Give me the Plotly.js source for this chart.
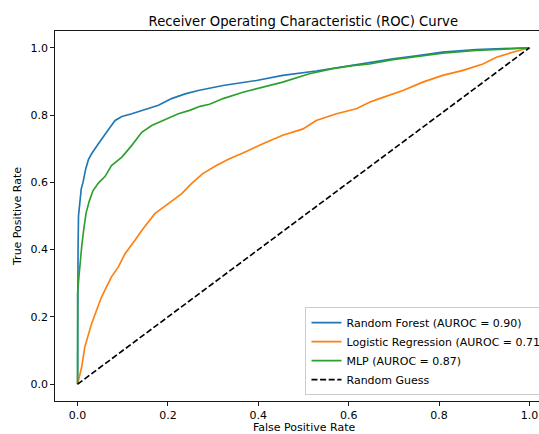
<!DOCTYPE html>
<html>
<head>
<meta charset="utf-8">
<script src="https://cdn.plot.ly/plotly-3.0.1.min.js"></script>
<style>
html, body { margin: 0; padding: 0; overflow: hidden; background: #fff; }
#chart { width: 553px; height: 434px; }
</style>
</head>
<body>
<div id="chart"></div>
<script>
// Random Forest (AUROC = 0.90)
const rfFpr = [0, 0, 0.001, 0.002, 0.005, 0.008, 0.012, 0.018, 0.024, 0.031, 0.046, 0.061, 0.072, 0.083, 0.098, 0.12, 0.149, 0.179, 0.208, 0.238, 0.267, 0.322, 0.396, 0.454, 0.528, 0.587, 0.646, 0.698, 0.75, 0.808, 0.882, 0.94, 1.0];
const rfTpr = [0, 0.27, 0.4, 0.5, 0.55, 0.58, 0.6, 0.64, 0.668, 0.685, 0.715, 0.745, 0.764, 0.784, 0.796, 0.804, 0.816, 0.829, 0.849, 0.863, 0.873, 0.888, 0.903, 0.918, 0.931, 0.944, 0.957, 0.967, 0.976, 0.987, 0.995, 0.998, 1.0];

// Logistic Regression (AUROC = 0.71)
const lrFpr = [0, 0.009, 0.016, 0.024, 0.031, 0.042, 0.053, 0.064, 0.075, 0.09, 0.105, 0.127, 0.142, 0.171, 0.201, 0.23, 0.252, 0.277, 0.307, 0.336, 0.366, 0.41, 0.454, 0.499, 0.528, 0.573, 0.617, 0.646, 0.668, 0.72, 0.764, 0.808, 0.853, 0.897, 0.927, 0.963, 1.0];
const lrTpr = [0, 0.051, 0.111, 0.151, 0.18, 0.22, 0.259, 0.289, 0.319, 0.348, 0.388, 0.428, 0.457, 0.507, 0.537, 0.566, 0.596, 0.626, 0.65, 0.67, 0.687, 0.715, 0.74, 0.759, 0.784, 0.804, 0.819, 0.838, 0.849, 0.873, 0.898, 0.918, 0.933, 0.952, 0.972, 0.987, 1.0];

// MLP (AUROC = 0.87)
const mlpFpr = [0, 0, 0.003, 0.005, 0.009, 0.014, 0.019, 0.026, 0.034, 0.046, 0.061, 0.075, 0.098, 0.12, 0.142, 0.164, 0.193, 0.223, 0.248, 0.271, 0.292, 0.322, 0.366, 0.41, 0.454, 0.513, 0.565, 0.609, 0.646, 0.698, 0.75, 0.808, 0.882, 0.94, 1.0];
const mlpTpr = [0, 0.27, 0.32, 0.36, 0.408, 0.465, 0.51, 0.545, 0.575, 0.598, 0.618, 0.65, 0.675, 0.71, 0.749, 0.769, 0.786, 0.804, 0.814, 0.826, 0.832, 0.849, 0.868, 0.883, 0.898, 0.923, 0.938, 0.947, 0.952, 0.965, 0.975, 0.984, 0.992, 0.997, 1.0];

// Random Guess
const guessFpr = [0, 1];
const guessTpr = [0, 1];

const xTicks = [0, 0.2, 0.4, 0.6, 0.8, 1.0];
const yTicks = [0, 0.2, 0.4, 0.6, 0.8, 1.0];
const tickText = ['0.0', '0.2', '0.4', '0.6', '0.8', '1.0'];

const FONT = 'DejaVu Sans, Verdana, sans-serif';
const LW = 1.65;

const traces = [
  {x: rfFpr, y: rfTpr, mode: 'lines', name: 'Random Forest (AUROC = 0.90)', line: {color: '#1f77b4', width: LW}},
  {x: lrFpr, y: lrTpr, mode: 'lines', name: 'Logistic Regression (AUROC = 0.71)', line: {color: '#ff7f0e', width: LW}},
  {x: mlpFpr, y: mlpTpr, mode: 'lines', name: 'MLP (AUROC = 0.87)', line: {color: '#2ca02c', width: LW}},
  {x: guessFpr, y: guessTpr, mode: 'lines', name: 'Random Guess', line: {color: '#000000', width: LW, dash: '6px,2.6px'}}
];

const axisCommon = {
  showgrid: false, zeroline: false,
  showline: true, mirror: true, linecolor: '#000', linewidth: 0.9,
  ticks: 'outside', ticklen: 3.9, tickwidth: 0.9, tickcolor: '#000',
  tickfont: {family: FONT, size: 11, color: '#000'},
  automargin: false
};

const layout = {
  width: 553, height: 434,
  margin: {l: 55.3, r: 0.5, t: 30.5, b: 33.2},
  paper_bgcolor: '#fff', plot_bgcolor: '#fff',
  font: {family: FONT, size: 11, color: '#000'},
  title: {text: 'Receiver Operating Characteristic (ROC) Curve', font: {family: FONT, size: 13.2, color: '#000'},
          x: 0.5485, xanchor: 'center', y: 0.95, yanchor: 'middle'},
  xaxis: Object.assign({}, axisCommon, {
    range: [-0.05, 1.05], tickvals: xTicks, ticktext: tickText
  }),
  yaxis: Object.assign({}, axisCommon, {
    range: [-0.05, 1.05], tickvals: yTicks, ticktext: tickText,
    title: {text: 'True Positive Rate', font: {family: FONT, size: 11, color: '#000'}, standoff: 6}
  }),
  annotations: [{
    text: 'False Positive Rate', xref: 'paper', yref: 'paper', x: 0.5, y: -0.0708,
    xanchor: 'center', yanchor: 'middle', showarrow: false, borderpad: 0,
    font: {family: FONT, size: 11, color: '#000'}
  }],
  showlegend: true,
  legend: {
    x: 0.504, xanchor: 'left', y: 0.0157, yanchor: 'bottom',
    bgcolor: 'rgba(255,255,255,0.8)', bordercolor: '#cccccc', borderwidth: 1,
    font: {family: FONT, size: 11, color: '#000'},
    itemwidth: 30, tracegroupgap: 0
  }
};

Plotly.newPlot('chart', traces, layout, {displayModeBar: false, staticPlot: true});
</script>
</body>
</html>
